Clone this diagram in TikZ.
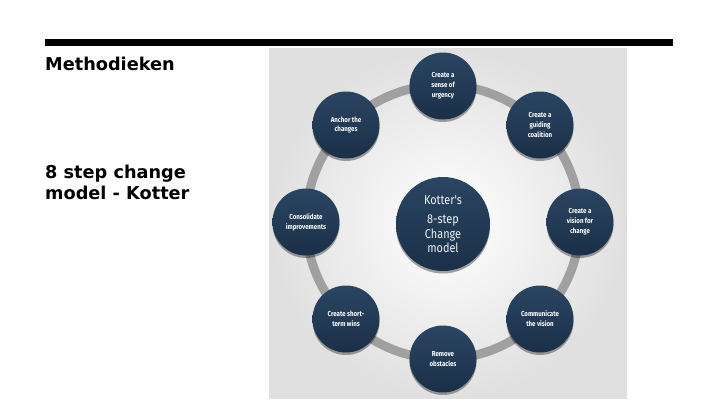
\documentclass[tikz,border=0pt]{standalone}
\usepackage{fontspec}
\setmainfont{DejaVu Sans}
\newfontfamily\condfont[FakeStretch=0.85]{Fira Sans}
\usetikzlibrary{shadows}
\definecolor{navytop}{HTML}{2A4562}
\definecolor{navybot}{HTML}{1B3048}
\definecolor{ringgray}{HTML}{A0A0A0}
\definecolor{imgedge}{HTML}{E0E0E0}
\definecolor{hubtext}{HTML}{EEF2F6}
\tikzset{
  slidetext/.style={anchor=base west, inner sep=0pt, font=\bfseries\fontsize{17.7}{21}\selectfont},
  kstep/.style={circle, minimum size=67pt, inner sep=0pt, align=center,
    top color=navytop, bottom color=navybot, text=white,
    font=\condfont\bfseries\fontsize{7.2}{9.8}\selectfont,
    drop shadow={shadow xshift=0pt, shadow yshift=-2.5pt, opacity=0.35, fill=black}},
  hub/.style={kstep, minimum size=94pt, text=hubtext,
    font=\condfont\fontsize{12.8}{14.5}\selectfont},
  ring/.style={draw=ringgray, line width=9pt}
}
\begin{document}
\begin{tikzpicture}[x=1pt,y=-1pt]
\useasboundingbox (0,0) rectangle (720,405);
\fill[white] (0,0) rectangle (720,405);
% top bar
\fill[black] (45,39) rectangle (673,46);
% left texts
\node[slidetext] (title) at (45,70) {Methodieken};
\node[slidetext] (sub1) at (45,178) {8 step change};
\node[slidetext] (sub2) at (45,199) {model - Kotter};
% image background
\shade[inner color=white, outer color=imgedge] (269,48) rectangle (627,398);
% ring
\coordinate (c) at (443,222);
\draw[ring] (c) circle[radius=137];
% steps
\node[kstep] (s1) at (443,86) {Create a\\sense of\\urgency};
\node[kstep] (s2) at (540,125) {Create a\\guiding\\coalition};
\node[kstep] (s3) at (580,222) {Create a\\vision for\\change};
\node[kstep] (s4) at (540,319) {Communicate\\the vision};
\node[kstep] (s5) at (443,359) {Remove\\obstacles};
\node[kstep] (s6) at (346,319) {Create short-\\term wins};
\node[kstep] (s7) at (306,222) {Consolidate\\improvements};
\node[kstep] (s8) at (346,125) {Anchor the\\changes};
% hub
\node[hub] (hub) at (443,224) {Kotter's\\[5pt]8-step\\Change\\model};
\end{tikzpicture}
\end{document}
